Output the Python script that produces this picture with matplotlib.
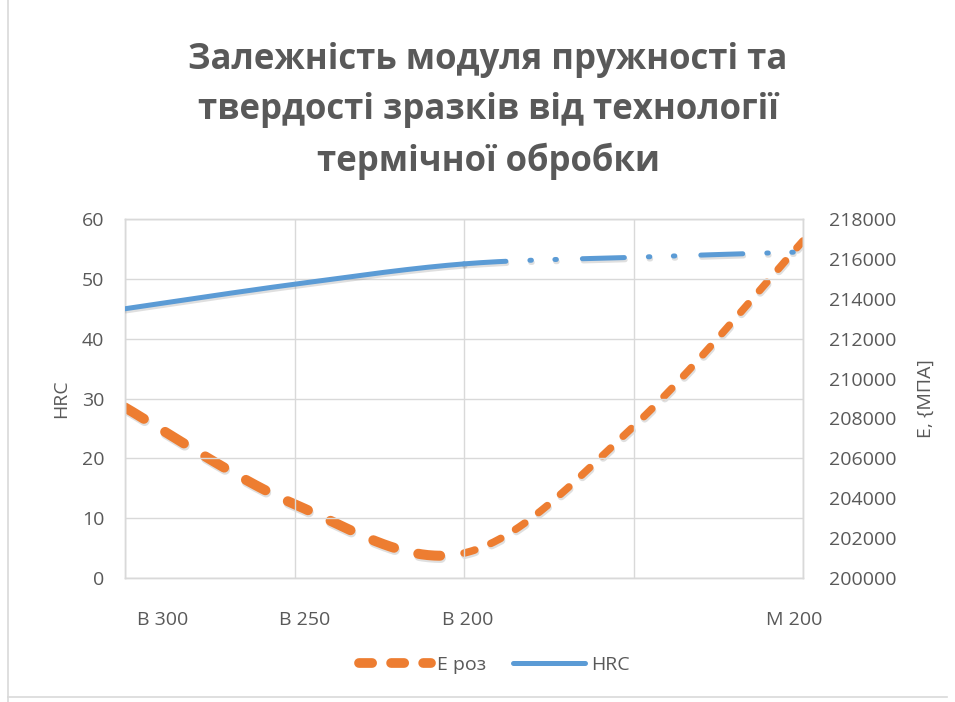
import numpy as np
import matplotlib
matplotlib.use("Agg")
import matplotlib.pyplot as plt
from matplotlib import patheffects as pe
from matplotlib.lines import Line2D

# Treatment technology categories (4th slot has no label)
categories = ['В 300', 'В 250', 'В 200', '', 'М 200']
# Modulus of elasticity, MPa
e_roz = [208550, 203700, 201250, 207600, 216900]
# Hardness, HRC
hrc = [45.0, 49.1, 52.5, 53.6, 54.5]

ORANGE = '#ED7D31'
BLUE = '#5B9BD5'
TEXT = '#595959'
GRID = '#D9D9D9'

plt.rcParams['font.family'] = ['Open Sans', 'DejaVu Sans']


def smooth(values, n=80):
    """Cubic Bezier smoothing through the points (spreadsheet-style smooth line)."""
    x = np.arange(len(values), dtype=float)
    p = np.column_stack([x, np.asarray(values, dtype=float)])
    out = []
    last = len(p) - 1
    for i in range(last):
        p0 = p[max(i - 1, 0)]
        p1 = p[i]
        p2 = p[i + 1]
        p3 = p[min(i + 2, last)]
        c1 = p1 + (p2 - p0) / 6.0
        c2 = p2 - (p3 - p1) / 6.0
        t = np.linspace(0, 1, n, endpoint=(i == last - 1))[:, None]
        seg = ((1 - t) ** 3) * p1 + 3 * ((1 - t) ** 2) * t * c1 \
            + 3 * (1 - t) * t ** 2 * c2 + t ** 3 * p2
        out.append(seg)
    s = np.vstack(out)
    return s[:, 0], s[:, 1]


fig = plt.figure(figsize=(9.55, 7.02), dpi=100)
ax = fig.add_axes([125 / 955, 1 - 578 / 702, 678 / 955, 359 / 702])
ax2 = ax.twinx()

xs = np.arange(len(categories))

# grid and frame
ax.set_xlim(0, len(categories) - 1)
ax.set_ylim(0, 60)
ax.set_yticks(np.arange(0, 61, 10))
ax.set_xticks(xs)
ax.set_xticklabels([])
ax.grid(True, color=GRID, linewidth=1.0)
ax.set_axisbelow(True)
for a in (ax, ax2):
    for sp in a.spines.values():
        sp.set_color(GRID)
        sp.set_linewidth(1.0)

ax2.set_ylim(200000, 218000)
ax2.set_yticks(np.arange(200000, 218001, 2000))

ax.tick_params(axis='both', length=0)
ax2.tick_params(axis='both', length=0)
ax.tick_params(axis='y', labelsize=14, labelcolor=TEXT, pad=15)
ax2.tick_params(axis='y', labelsize=14, labelcolor=TEXT, pad=19)

# x labels sit slightly off the category gridlines
label_pos = [0.22, 1.06, 2.02, 3.95]
label_txt = [c for c in categories if c]
ax.set_xticks(label_pos, minor=True)
ax.set_xticklabels(label_txt, minor=True)
ax.tick_params(axis='x', which='minor', length=0, labelsize=14,
               labelcolor=TEXT, pad=24)

ax.set_ylabel('HRC', fontsize=14, color=TEXT, labelpad=8)
ax2.set_ylabel('Е, {МПА]', fontsize=14, color=TEXT, labelpad=14)

shadow = [pe.SimpleLineShadow(offset=(0.6, -1.6), shadow_color='#808080', alpha=0.25),
          pe.Normal()]

# E curve: heavy dashes on the first half, lighter dashes after В 200
ex, ey = smooth(e_roz)
left = ex <= 2.0
right = ex >= 2.0
l1, = ax2.plot(ex[left], ey[left], color=ORANGE, linewidth=7.2,
               dash_capstyle='round', solid_capstyle='round')
l1.set_dashes((2.2, 2.5))
l1.set_path_effects(shadow)
l2, = ax2.plot(ex[right], ey[right], color=ORANGE, linewidth=5.4,
               dash_capstyle='round', solid_capstyle='round')
l2.set_dashes((1.5, 2.3))
l2.set_path_effects(shadow)

# HRC curve: solid up to В 200, long dash-dot-dot afterwards
hx, hy = smooth(hrc)
b1, = ax.plot(hx[hx <= 2.0], hy[hx <= 2.0], color=BLUE, linewidth=3.6,
              solid_capstyle='round', zorder=5)
b1.set_path_effects(shadow)
b2, = ax.plot(hx[hx >= 2.0], hy[hx >= 2.0], color=BLUE, linewidth=3.6,
              dash_capstyle='round', zorder=5)
b2.set_dashes((8.4, 4.8, 0.3, 4.7, 0.3, 5.2))
b2.set_path_effects(shadow)
ax.set_zorder(ax2.get_zorder() + 1)
ax.patch.set_visible(False)

# title
fig.text(488 / 955, 1 - 111 / 702,
         'Залежність модуля пружності та\nтвердості зразків від технології\nтермічної обробки',
         ha='center', va='center', fontsize=25, fontweight='bold', color=TEXT,
         linespacing=1.52)

# legend
h_e = Line2D([], [], color=ORANGE, linewidth=7, dash_capstyle='round',
             dashes=(1.35, 1.95))
h_h = Line2D([], [], color=BLUE, linewidth=3.6, solid_capstyle='round')
fig.legend([h_e, h_h], ['Е роз', 'HRC'], loc='center',
           bbox_to_anchor=(494 / 955, 1 - 665 / 702), ncol=2, frameon=False,
           fontsize=14, labelcolor=TEXT, handlelength=3.7, handletextpad=0.3,
           columnspacing=1.4)

# outer chart border
fig.add_artist(Line2D([8 / 955, 8 / 955], [0, 1], transform=fig.transFigure,
                      color=GRID, linewidth=1.2))
fig.add_artist(Line2D([8 / 955, 947 / 955], [1 - 697 / 702, 1 - 697 / 702],
                      transform=fig.transFigure, color=GRID, linewidth=1.2))

fig.savefig('out.png', dpi=100)
